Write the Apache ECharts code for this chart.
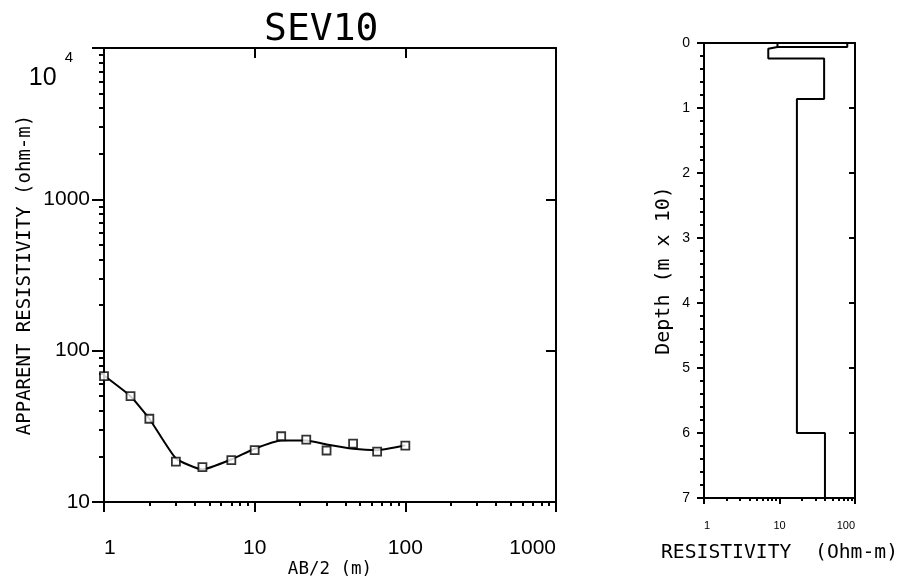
<!DOCTYPE html>
<html><head><meta charset="utf-8">
<script src="https://cdn.jsdelivr.net/npm/echarts@6/dist/echarts.min.js"></script>
<style>html,body{margin:0;padding:0;background:#fff}#c{width:902px;height:584px}</style>
</head><body><div id="c"></div>
<script>
// Sounding curve (left panel)
const abHalf = [1, 1.5, 2, 3, 4.5, 7, 10, 15, 22, 30, 45, 65, 100];
const rhoObserved = [67.8, 50, 35.5, 18.5, 17, 18.9, 22, 27.2, 25.8, 21.9, 24.3, 21.5, 23.6];
const rhoModel = [68.5, 50, 35.5, 19.4, 16.4, 19.1, 22.5, 25.5, 25.5, 24, 22.5, 22, 23.7];
const xTickLabelsLeft = ['1', '10', '100', '1000'];
const yTickLabelsLeft = ['10', '100', '1000', '10^4'];
// Layered model (right panel), depth in units of 10 m
const layerResistivity = [79, 9.4, 7.1, 39, 17, 40];
const layerTopDepth = [0, 0.06, 0.09, 0.24, 0.86, 6.0];
const maxDepth = 7;
const depthTicks = [0, 1, 2, 3, 4, 5, 6, 7];

const mono = 'DejaVu Sans Mono';
const sans = 'Liberation Sans';

// build stair path from layers
const stair = [];
for (let i = 0; i < layerResistivity.length; i++) {
  const top = layerTopDepth[i];
  const bot = i + 1 < layerTopDepth.length ? layerTopDepth[i + 1] : maxDepth;
  stair.push([layerResistivity[i], top]);
  stair.push([layerResistivity[i], bot]);
}
const stairExtra = [[layerResistivity[1], 0], [layerResistivity[1], layerTopDepth[1]]];

const chart = echarts.init(document.getElementById('c'), null, {renderer: 'canvas'});
const lineStyleAxis = {color: '#000', width: 2};
const option = {
  backgroundColor: '#fff',
  animation: false,
  title: {
    text: 'SEV10', left: 259, top: 6,
    textStyle: {fontFamily: mono, fontSize: 38, fontWeight: 'normal', color: '#000'}
  },
  grid: [
    {left: 104, top: 48, width: 452, height: 454, containLabel: false, outerBoundsMode: 'none'},
    {left: 704, top: 43, width: 151, height: 455, containLabel: false, outerBoundsMode: 'none'}
  ],
  xAxis: [
    {
      gridIndex: 0, type: 'log', logBase: 10, min: 1, max: 1000, position: 'bottom',
      name: 'AB/2 (m)', nameLocation: 'middle', nameGap: 58, nameMoveOverlap: false,
      nameTextStyle: {fontFamily: mono, fontSize: 17.5, color: '#000'},
      axisLine: {show: true, onZero: false, lineStyle: lineStyleAxis},
      axisTick: {show: true, length: 10, inside: false, lineStyle: {color: '#000', width: 2}},
      minorTick: {show: true, splitNumber: 9, length: 4, lineStyle: {color: '#000', width: 2}},
      axisLabel: {
        margin: 36, fontFamily: sans, fontSize: 21, color: '#000',
        alignMinLabel: 'left', alignMaxLabel: 'right',
        formatter: (v) => xTickLabelsLeft[Math.round(Math.log10(v))]
      },
      splitLine: {show: false}, minorSplitLine: {show: false}
    },
    {
      gridIndex: 0, type: 'log', logBase: 10, min: 1, max: 1000, position: 'top',
      axisLine: {show: true, onZero: false, lineStyle: lineStyleAxis},
      axisTick: {show: true, length: 10, inside: true, lineStyle: {color: '#000', width: 2}},
      axisLabel: {show: false}, splitLine: {show: false}
    },
    {
      gridIndex: 1, type: 'log', logBase: 10, min: 1, max: 100, position: 'bottom',
      name: 'RESISTIVITY  (Ohm-m)', nameLocation: 'middle', nameGap: 45, nameMoveOverlap: false,
      nameTextStyle: {fontFamily: mono, fontSize: 19.7, color: '#000'},
      axisLine: {show: true, onZero: false, lineStyle: lineStyleAxis},
      axisTick: {show: true, length: 6, inside: false, lineStyle: {color: '#000', width: 2}},
      minorTick: {show: true, splitNumber: 9, length: 3, lineStyle: {color: '#000', width: 2}},
      axisLabel: {
        margin: 22, fontFamily: sans, fontSize: 11, color: '#000',
        alignMinLabel: 'left', alignMaxLabel: 'right'
      },
      splitLine: {show: false}
    },
    {
      gridIndex: 1, type: 'log', logBase: 10, min: 1, max: 100, position: 'top',
      axisLine: {show: true, onZero: false, lineStyle: lineStyleAxis},
      axisTick: {show: false}, axisLabel: {show: false}, splitLine: {show: false}
    }
  ],
  yAxis: [
    {
      gridIndex: 0, type: 'log', logBase: 10, min: 10, max: 10000, position: 'left',
      name: 'APPARENT RESISTIVITY (ohm-m)', nameLocation: 'middle', nameGap: 69, nameMoveOverlap: false,
      nameTextStyle: {fontFamily: mono, fontSize: 19, color: '#000'},
      axisLine: {show: true, onZero: false, lineStyle: lineStyleAxis},
      axisTick: {show: true, length: 12, inside: false, lineStyle: {color: '#000', width: 2}},
      minorTick: {show: true, splitNumber: 9, length: 5, lineStyle: {color: '#000', width: 2}},
      axisLabel: {
        margin: 14, fontFamily: sans, fontSize: 21, color: '#000',
        verticalAlignMaxLabel: 'top',
        formatter: (v) => {
          const s = yTickLabelsLeft[Math.round(Math.log10(v)) - 1];
          if (s.indexOf('^') >= 0) {
            const p = s.split('^');
            return '{b|' + p[0] + '}{s|' + p[1] + '}';
          }
          return s;
        },
        rich: {
          b: {fontFamily: sans, fontSize: 25, color: '#000', padding: [18, 0, 0, 0], verticalAlign: 'bottom'},
          s: {fontFamily: sans, fontSize: 15, color: '#000', padding: [2, 17, 0, 8], verticalAlign: 'top'}
        }
      },
      splitLine: {show: false}
    },
    {
      gridIndex: 0, type: 'log', logBase: 10, min: 10, max: 10000, position: 'right',
      axisLine: {show: true, onZero: false, lineStyle: lineStyleAxis},
      axisTick: {show: true, length: 10, inside: true, lineStyle: {color: '#000', width: 2}},
      axisLabel: {show: false}, splitLine: {show: false}
    },
    {
      gridIndex: 1, type: 'value', min: 0, max: maxDepth, interval: 1, inverse: true, position: 'left',
      name: 'Depth (m x 10)', nameLocation: 'middle', nameGap: 30, nameMoveOverlap: false,
      nameTextStyle: {fontFamily: mono, fontSize: 20, color: '#000'},
      axisLine: {show: true, onZero: false, lineStyle: lineStyleAxis},
      axisTick: {show: true, length: 7, inside: false, lineStyle: {color: '#000', width: 2}},
      minorTick: {show: true, splitNumber: 5, length: 4, lineStyle: {color: '#000', width: 2}},
      axisLabel: {margin: 14, fontFamily: sans, fontSize: 14, color: '#000',
        formatter: (v) => String(depthTicks[Math.round(v)])},
      splitLine: {show: false}
    },
    {
      gridIndex: 1, type: 'value', min: 0, max: maxDepth, interval: 1, inverse: true, position: 'right',
      axisLine: {show: true, onZero: false, lineStyle: lineStyleAxis},
      axisTick: {show: true, length: 6, inside: true, lineStyle: {color: '#000', width: 2}},
      axisLabel: {show: false}, splitLine: {show: false}
    }
  ],
  series: [
    {
      type: 'line', xAxisIndex: 0, yAxisIndex: 0, smooth: 0.15, showSymbol: false,
      data: abHalf.map((x, i) => [x, rhoModel[i]]),
      lineStyle: {color: '#000', width: 2}, z: 2
    },
    {
      type: 'scatter', xAxisIndex: 0, yAxisIndex: 0, symbol: 'rect', symbolSize: 8,
      data: abHalf.map((x, i) => [x, rhoObserved[i]]),
      itemStyle: {color: '#fff', borderColor: '#000', borderWidth: 1.8}, z: 3
    },
    {
      type: 'line', xAxisIndex: 2, yAxisIndex: 2, showSymbol: false,
      data: stair, lineStyle: {color: '#000', width: 2}
    },
    {
      type: 'line', xAxisIndex: 2, yAxisIndex: 2, showSymbol: false,
      data: stairExtra, lineStyle: {color: '#000', width: 2}
    }
  ]
};
chart.setOption(option);
</script>
</body></html>
